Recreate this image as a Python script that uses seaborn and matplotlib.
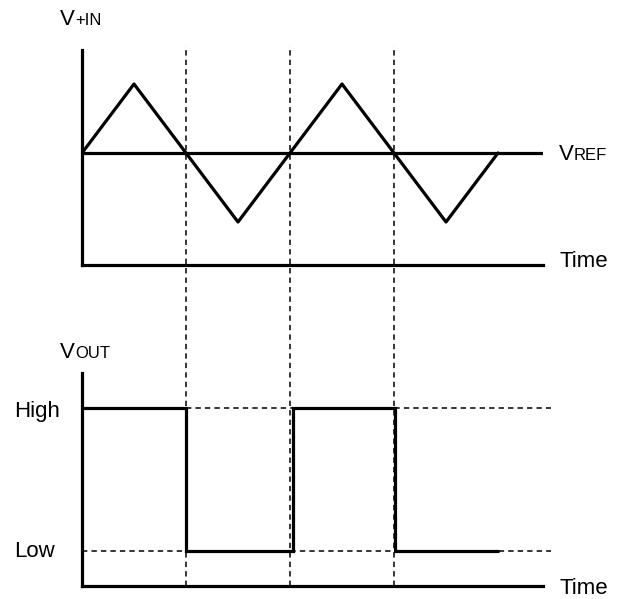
import matplotlib
matplotlib.use("Agg")
import matplotlib.pyplot as plt
import seaborn as sns
import pandas as pd

# Input: triangle wave around the reference level (reference = 0)
tri_time = [0.0, 0.5, 1.5, 2.5, 3.5, 4.0]
tri_value = [0.0, 1.0, -1.0, 1.0, -1.0, 0.0]
vref_level = 0.0

# Comparator output (1 = High, 0 = Low), steps-post
out_time = [0.0, 1.0, 2.03, 3.01, 4.0]
out_value = [1, 0, 1, 0, 0]
out_levels = {"High": 1, "Low": 0}

# Threshold crossings of the input
crossings = [1.0, 2.0, 3.0]

sns.set_theme(style="white")
plt.rcParams["font.family"] = ["Liberation Sans", "DejaVu Sans"]
plt.rcParams["text.color"] = "black"

W, H = 626, 599
fig = plt.figure(figsize=(W / 100, H / 100), dpi=100)
fig.patch.set_facecolor("white")

px = 104.0           # pixels per time unit
x0, x1 = 82, 543     # axis horizontal extent in pixels
tmax = (x1 - x0) / px

def fx(p):
    return p / W

def fy(p):
    return 1 - p / H

lw_axis = 2.3
lw_sig = 2.3
dash_kw = dict(color="black", lw=1.1, dashes=(3.5, 2.7))

# ---------- top panel: V+IN ----------
ax1 = fig.add_axes([fx(x0), fy(265), fx(x1 - x0), (265 - 50) / H])
df_in = pd.DataFrame({"t": tri_time, "v": tri_value})
sns.lineplot(data=df_in, x="t", y="v", ax=ax1, color="black", lw=lw_sig,
             estimator=None, sort=False)
ax1.axhline(vref_level, color="black", lw=lw_sig)
ax1.set_xlim(0, tmax)
ax1.set_ylim(-(265 - 153) / 69, (153 - 50) / 69)

# ---------- bottom panel: VOUT ----------
ax2 = fig.add_axes([fx(x0), fy(586), fx(x1 - x0), (586 - 373) / H])
ax2.set_xlim(0, tmax)
ax2.set_ylim(-(586 - 551) / 143, 1 + (408 - 373) / 143)
dash_end = (551 - x0) / px
ax2.plot([crossings[0], dash_end], [out_levels["High"]] * 2, clip_on=False, **dash_kw)
ax2.plot([0, dash_end], [out_levels["Low"]] * 2, clip_on=False, **dash_kw)
df_out = pd.DataFrame({"t": out_time, "v": out_value})
sns.lineplot(data=df_out, x="t", y="v", ax=ax2, color="black", lw=lw_sig,
             estimator=None, drawstyle="steps-post", solid_joinstyle="miter")

for ax in (ax1, ax2):
    ax.set_facecolor("none")
    ax.set_xlabel("")
    ax.set_ylabel("")
    ax.set_xticks([])
    ax.set_yticks([])
    for s in ("top", "right"):
        ax.spines[s].set_visible(False)
    for s in ("left", "bottom"):
        ax.spines[s].set_visible(True)
        ax.spines[s].set_color("black")
        ax.spines[s].set_linewidth(lw_axis)

# ---------- vertical guides spanning both panels ----------
ov = fig.add_axes([fx(x0), 0, fx(x1 - x0), 1])
ov.set_xlim(0, tmax)
ov.set_ylim(0, 1)
ov.axis("off")
for c in crossings:
    ov.axvline(c, ymin=fy(586), ymax=fy(46), clip_on=False, **dash_kw)

# ---------- labels ----------
big, small = 16, 12

def label(main, sub, xp, yp):
    t = fig.text(fx(xp), fy(yp), main, fontsize=big, va="baseline", ha="left",
                 color="black")
    if sub:
        ov.annotate(sub, xy=(1, fy(yp)), xycoords=(t, ov.transAxes),
                    fontsize=small, va="baseline", ha="left", color="black",
                    annotation_clip=False)
    return t

label("V", "+IN", 60, 25)
label("V", "REF", 559, 160)
label("V", "OUT", 60, 358)
label("Time", None, 560, 267)
label("Time", None, 560, 594)
label("High", None, 14, 417)
label("Low", None, 14, 557)

fig.savefig("out.png", dpi=100, facecolor="white")
